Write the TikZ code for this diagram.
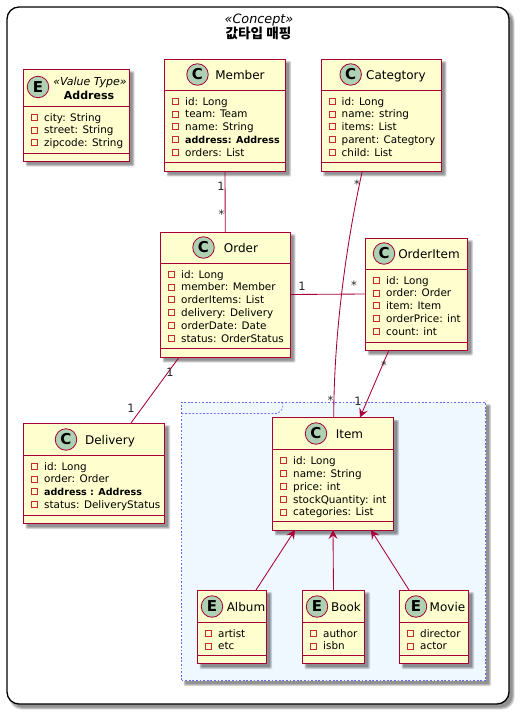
\documentclass[tikz,border=0pt]{standalone}
\usepackage{fontspec}
\setmainfont{DejaVu Sans}
\newfontfamily\krfont{Noto Sans CJK KR}
\usetikzlibrary{arrows.meta,calc}
\definecolor{umlfill}{HTML}{FEFECE}
\definecolor{umlline}{HTML}{A80036}
\definecolor{umlcirc}{HTML}{ADD1B2}
\definecolor{umlpriv}{HTML}{C82930}
\definecolor{pkgfill}{HTML}{F0F8FF}
\definecolor{pkgline}{HTML}{6666FF}
\newcommand\boldrow[1]{{\fontsize{9.55}{12}\selectfont\bfseries #1}}
\tikzset{
  classbox/.style={draw=umlline,line width=0.95pt,fill=umlfill,inner sep=0pt,outer sep=0pt},
  classrule/.style={draw=umlline,line width=0.95pt},
  shadowlayer/.style={fill=black,opacity=0.13,draw=none},
  spot/.style={circle,draw=umlline,line width=0.8pt,fill=umlcirc,minimum size=21.5pt,inner sep=0pt,font=\fontsize{15}{15}\selectfont\bfseries},
  rowtext/.style={inner sep=0pt,anchor=base west,font=\fontsize{10.4}{12}\selectfont},
  privmark/.style={draw=umlpriv,line width=0.7pt,minimum size=6pt,inner sep=0pt,fill=none},
  titletext/.style={inner sep=0pt,anchor=base,font=\fontsize{12}{14}\selectfont},
  link/.style={draw=umlline,line width=0.85pt},
  linkarrow/.style={link,-{Stealth[length=9pt,width=9pt,inset=3.5pt]}},
  mult/.style={inner sep=0pt,font=\fontsize{11.5}{12}\selectfont,text=black!85},
  pkgdash/.style={draw=pkgline,line width=0.7pt,dash pattern=on 1.8pt off 1.8pt},
}
\newcommand\softshadow[5]{%
  \foreach \d in {0,1,2,3}{
    \fill[shadowlayer,rounded corners=#5pt]
      ({#1+2+\d*0.7},{#2+2+\d*0.7}) rectangle ({#3+5.5-\d*0.7},{#4+5.5-\d*0.7});
  }}
% name x1 y1 x2 y2 header divider
\newcommand\umlbox[7]{%
  \softshadow{#2}{#3}{#4}{#5}{1}
  \node[classbox,minimum width={(#4-#2)*1pt},minimum height={(#5-#3)*1pt}] (#1) at ({(#2+#4)/2},{(#3+#5)/2}) {};
  \draw[classrule] (#2,#6) -- (#4,#6);
  \draw[classrule] (#2,#7) -- (#4,#7);
}
% name x1 first-row-centre y, rows
\newcommand\umlrows[4]{%
  \foreach \t [count=\i from 0] in {#4}{
    \node[privmark] (#1-m\i) at ({#2+11},{#3+\i*12.85}) {};
    \node[rowtext] (#1-r\i) at ({#2+20.5},{#3+\i*12.85+4}) {\t};
  }}
% name cx cy letter titlex baseline title
\newcommand\umltitle[7]{%
  \node[spot] (#1-spot) at (#2,#3) {#4};
  \node[titletext] (#1-title) at (#5,#6) {#7};
}
\begin{document}
\begin{tikzpicture}[x=1pt,y=-1pt]
\useasboundingbox (0,0) rectangle (520,715);
\fill[white] (0,0) rectangle (520,715);
% outer concept frame
\softshadow{7}{7}{509}{704}{12}
\node[draw=black,line width=1.3pt,fill=white,rounded corners=12pt,inner sep=0pt,outer sep=0pt,minimum width=502pt,minimum height=697pt] (concept) at (258,355.5) {};
\node[inner sep=0pt,anchor=base,font=\fontsize{12.8}{14}\selectfont\itshape] (conceptstereo) at (259,23) {«Concept»};
\node[inner sep=0pt,anchor=base,font=\fontsize{13.6}{14}\selectfont\krfont\bfseries] (concepttitle) at (258.5,38) {값타입 매핑};
% package
\softshadow{181.5}{402}{485.5}{680.5}{1}
\node[pkgdash,fill=pkgfill,inner sep=0pt,outer sep=0pt,minimum width=304pt,minimum height=278.5pt] (itempkg) at (333.5,541.25) {};
\draw[pkgdash] (181.5,413.5) -- (278,413.5) -- (282.7,408.5) -- (282.7,402);
% classes
\umlbox{address}{23.5}{69}{129}{161}{106.5}{153}
\node[spot] (address-spot) at (38,87) {E};
\node[titletext,font=\fontsize{11}{12}\selectfont\itshape] (address-stereo) at (90,85) {«Value Type»};
\node[titletext,font=\fontsize{11}{14}\selectfont\bfseries] (address-title) at (89,99) {Address};
\umlrows{address}{23.5}{117}{city: String,street: String,zipcode: String}

\umlbox{member}{164.5}{59}{285.5}{171}{90.5}{162}
\umltitle{member}{197.5}{74.5}{C}{240}{79}{Member}
\umlrows{member}{164.5}{101}{id: Long,team: Team,name: String,\boldrow{address: Address},orders: List}

\umlbox{categtory}{321}{59}{441}{171}{90.5}{162}
\umltitle{categtory}{350.7}{74.5}{C}{396}{79}{Categtory}
\umlrows{categtory}{321}{101}{id: Long,name: string,items: List,parent: Categtory,child: List}

\umlbox{order}{160.5}{232}{290}{357}{263.5}{348}
\umltitle{order}{203.5}{247.5}{C}{241}{252}{Order}
\umlrows{order}{160.5}{274}{id: Long,member: Member,orderItems: List,delivery: Delivery,orderDate: Date,status: OrderStatus}

\umlbox{orderitem}{365.5}{238}{467.5}{350}{269.5}{342}
\umltitle{orderitem}{384}{253.5}{C}{429}{258}{OrderItem}
\umlrows{orderitem}{365.5}{280}{id: Long,order: Order,item: Item,orderPrice: int,count: int}

\umlbox{delivery}{23.5}{423}{164.5}{523.5}{455.5}{515}
\umltitle{delivery}{66}{439.5}{C}{110}{444}{Delivery}
\umlrows{delivery}{23.5}{466}{id: Long,order: Order,\boldrow{address : Address},status: DeliveryStatus}

\umlbox{item}{272.5}{417.5}{393.5}{530}{449.5}{521.5}
\umltitle{item}{316}{433.5}{C}{349.5}{438}{Item}
\umlrows{item}{272.5}{460.5}{id: Long,name: String,price: int,stockQuantity: int,categories: List}

\umlbox{album}{197.5}{590}{266.5}{663.5}{622}{655.5}
\umltitle{album}{212}{606.5}{E}{246}{611}{Album}
\umlrows{album}{197.5}{633}{artist,etc}

\umlbox{book}{302.5}{590}{364.5}{663.5}{622}{655.5}
\umltitle{book}{317}{606.5}{E}{346}{611}{Book}
\umlrows{book}{302.5}{633}{author,isbn}

\umlbox{movie}{399.5}{590}{468.5}{663.5}{622}{655.5}
\umltitle{movie}{416}{606.5}{E}{447.5}{611}{Movie}
\umlrows{movie}{399.5}{633}{director,actor}
% connectors
\draw[link] (member.south) -- (order.north);
\draw[link] (order.east) -- (orderitem.west);
\draw[link] ([xshift=-46pt]order.south) -- ([xshift=37pt]delivery.north);
\draw[link] ([xshift=-18.7pt]categtory.south) .. controls (347,240) and (334,330) .. ([xshift=0.7pt]item.north);
\draw[linkarrow] ([xshift=-27.5pt]orderitem.south) -- ([xshift=27pt]item.north);
\draw[linkarrow] ([xshift=24pt]album.north) -- ([xshift=-38pt]item.south);
\draw[linkarrow] (book.north) -- (item.south);
\draw[linkarrow] ([xshift=-25pt]movie.north) -- ([xshift=38pt]item.south);
% multiplicities
\node[mult] (m1) at (221,186.5) {1};
\node[mult] (m2) at (221.5,214) {*};
\node[mult] (m3) at (302,286.5) {1};
\node[mult] (m4) at (354,285) {*};
\node[mult] (m5) at (170,372.5) {1};
\node[mult] (m6) at (131,408.5) {1};
\node[mult] (m7) at (357,184) {*};
\node[mult] (m8) at (330.5,400.5) {*};
\node[mult] (m9) at (384,365) {*};
\node[mult] (m10) at (358,401) {1};
\end{tikzpicture}
\end{document}
